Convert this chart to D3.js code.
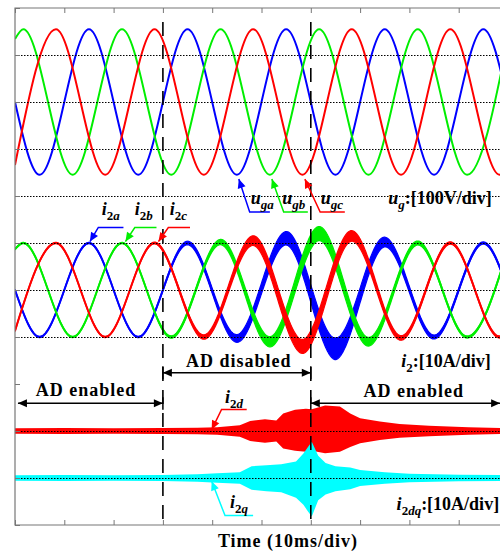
<!DOCTYPE html>
<html>
<head>
<meta charset="utf-8">
<script src="https://d3js.org/d3.v7.min.js"></script>
<style>
  body { margin: 0; background: #fff; }
  text { font-family: "Liberation Serif", "Times New Roman", serif; font-weight: bold; fill: #000; }
  .big { font-size: 18px; letter-spacing: 1px; }
  .tick line { stroke: #777; }
  .domain { display: none; }
</style>
</head>
<body>
<svg width="500" height="555"></svg>
<script>
// ---- data (time in ms, 10 ms/div) ----
// grid voltages: extrema times and values [V]
const ugaT = [0, 5, 15, 25, 35, 45, 55, 65, 75, 85, 95, 100];
const ugaV = [0, -155, 155, -155, 155, -155, 155, -155, 155, -155, 155, 0];
const ugbT = [0, 1.7, 11.7, 21.7, 31.7, 41.7, 51.7, 61.7, 71.7, 81.7, 91.7, 100];
const ugbV = [134, 155, -155, 155, -155, 155, -155, 155, -155, 155, -155, 134];
const ugcT = [0, 8.3, 18.3, 28.3, 38.3, 48.3, 58.3, 68.3, 78.3, 88.3, 98.3, 100];
const ugcV = [-134, 155, -155, 155, -155, 155, -155, 155, -155, 155, -155, -134];

// grid currents: extrema values [A] at the same times
const i2aV = [0, -10, 10, -10, 10, -10.3, 11, -12.5, 10.2, -10, 10, 0];
const i2bV = [8.7, 10, -10, 10, -10, 10.2, -11, 12, -11, 10, -10, 8.7];
const i2cV = [-8.7, 10, -10, 10, -10, 10.5, -12, 11.5, -10.2, 10, -10, -8.7];

// ripple half width on the currents [A]
const noiseT = [0, 5, 10, 15, 20, 25, 30, 35, 40, 45, 50, 55, 60, 65, 70, 75, 80, 85, 90, 95, 100];
const i2aN = [0, 0, 0, 0, 0, 0, 0.1, 0.25, 0.4, 0.7, 1.0, 1.3, 1.7, 2.2, 1.4, 0.9, 0.5, 0.3, 0.2, 0.1, 0.1];
const i2bN = [0, 0, 0, 0, 0, 0, 0.1, 0.2, 0.35, 0.6, 0.9, 1.1, 1.4, 1.3, 0.9, 0.6, 0.35, 0.2, 0.1, 0.1, 0.1];
const i2cN = [0, 0, 0, 0, 0, 0, 0.1, 0.25, 0.4, 0.7, 1.0, 1.3, 1.4, 1.2, 0.9, 0.5, 0.3, 0.2, 0.1, 0.1, 0.1];

// dq currents: envelope of the ripple [A]
const i2dT = [0, 10, 20, 30, 37, 41, 45.6, 47.7, 50.7, 53, 54.4, 56.8, 59, 60.2, 62.9, 65.9, 68, 70, 74, 78, 84, 92, 100];
const i2dUp = [10.35, 10.4, 10.35, 10.4, 10.5, 10.6, 11.0, 11.9, 12.3, 12.0, 13.5, 14.3, 14.5, 14.4, 15.2, 15.0, 13.5, 12.5, 11.8, 11.3, 10.9, 10.6, 10.4];
const i2dLo = [9.65, 9.6, 9.65, 9.6, 9.5, 9.4, 9.0, 8.1, 7.7, 8.0, 6.5, 6.0, 5.8, 6.0, 5.5, 5.8, 6.8, 7.6, 8.3, 8.8, 9.1, 9.4, 9.6];
const i2qT = [0, 10, 20, 30, 37, 41, 45.6, 48, 51, 54, 57, 58.5, 59.5, 60.2, 61.5, 63, 65, 68, 70, 75, 80, 90, 100];
const i2qUp = [0.35, 0.4, 0.35, 0.4, 0.6, 0.8, 1.0, 2.3, 2.5, 2.7, 3.3, 5.0, 6.5, 7.5, 4.5, 3.0, 2.3, 2.0, 1.5, 1.0, 0.7, 0.5, 0.4];
const i2qLo = [-0.35, -0.4, -0.35, -0.4, -0.6, -0.8, -1.0, -2.3, -2.6, -2.8, -4.0, -5.5, -7.0, -8.0, -4.5, -3.3, -2.6, -2.2, -1.5, -1.0, -0.7, -0.5, -0.4];

const switchT = [30, 60];          // AD disabled / enabled again
const gridDivs = [10, 9, 8, 7, 6, 5, 4, 2, 1];

// ---- scales ----
const svg = d3.select('svg');
const x = d3.scaleLinear().domain([0, 100]).range([15, 508]);
const yDiv = d3.scaleLinear().domain([0, 11]).range([525, 8]);
const yU = v => yDiv(9 + v / 100);   // 100 V/div
const yI = v => yDiv(5 + v / 10);    // 10 A/div
const yDQ = v => yDiv(1 + v / 10);   // 10 A/div
const pxPerA = yI(0) - yI(1);

const defs = svg.append('defs');
defs.append('clipPath').attr('id', 'plot')
  .append('rect').attr('x', 15).attr('y', 8).attr('width', 493).attr('height', 517);
const colors = { blue: '#0000ff', green: '#00ee00', red: '#ff0000', cyan: '#00ffff', black: '#000' };
Object.entries(colors).forEach(([k, c]) => {
  defs.append('marker').attr('id', 'ah-' + k)
    .attr('viewBox', '0 0 10 10').attr('refX', 10).attr('refY', 5)
    .attr('markerWidth', 11).attr('markerHeight', 9).attr('markerUnits', 'userSpaceOnUse')
    .attr('orient', 'auto-start-reverse')
    .append('path').attr('d', 'M0,0.5L10,5L0,9.5z').attr('fill', c);
});

const waves = svg.append('g').attr('clip-path', 'url(#plot)');
const curve = d3.curveMonotoneX;

// voltages
[[ugaT, ugaV, colors.blue], [ugbT, ugbV, colors.green], [ugcT, ugcV, colors.red]].forEach(([t, v, c]) => {
  waves.append('path')
    .attr('d', d3.line().x(d => x(d[0])).y(d => yU(d[1])).curve(curve)(d3.zip(t, v)))
    .attr('fill', 'none').attr('stroke', c).attr('stroke-width', 2);
});

// currents with ripple band
[[ugaT, i2aV, i2aN, colors.blue], [ugbT, i2bV, i2bN, colors.green], [ugcT, i2cV, i2cN, colors.red]].forEach(([t, v, n, c]) => {
  const path = waves.append('path')
    .attr('d', d3.line().x(d => x(d[0])).y(d => yI(d[1])).curve(curve)(d3.zip(t, v)))
    .attr('fill', 'none').attr('stroke', c).attr('stroke-width', 2);
  const node = path.node();
  const len = node.getTotalLength();
  const hw = d3.scaleLinear().domain(noiseT).range(n).clamp(true);
  const pts = d3.range(0, len, 0.5).map(l => node.getPointAtLength(l));
  waves.append('path')
    .attr('d', d3.area()
      .x(p => p.x)
      .y0(p => p.y - 0.6 - hw(x.invert(p.x)) * pxPerA)
      .y1(p => p.y + 0.6 + hw(x.invert(p.x)) * pxPerA)(pts))
    .attr('fill', c).attr('stroke', c).attr('stroke-width', 1.2);
});

// dq currents
[[i2dT, i2dUp, i2dLo, colors.red], [i2qT, i2qUp, i2qLo, colors.cyan]].forEach(([t, up, lo, c]) => {
  waves.append('path')
    .attr('d', d3.area().x(d => x(d[0])).y0(d => yDQ(d[1]) - 1).y1(d => yDQ(d[2]) + 1)(d3.zip(t, up, lo)))
    .attr('fill', c);
});

// dotted grid
svg.append('g').selectAll('line').data(gridDivs).join('line')
  .attr('x1', x(0)).attr('x2', x(100))
  .attr('y1', d => yDiv(d) + 0.5).attr('y2', d => yDiv(d) + 0.5)
  .attr('stroke', '#000').attr('stroke-width', 1).attr('stroke-dasharray', '1.5,1.5');

// dashed switching instants
svg.append('g').selectAll('line').data(switchT).join('line')
  .attr('x1', d => x(d)).attr('x2', d => x(d))
  .attr('y1', yDiv(10.7)).attr('y2', yDiv(0))
  .attr('stroke', '#000').attr('stroke-width', 1.6).attr('stroke-dasharray', '14,9');

// frame and ticks
const frame = svg.append('g');
frame.append('path')
  .attr('d', `M${x(100)},${yDiv(11)}H${x(0)}V${yDiv(0)}H${x(100)}`)
  .attr('fill', 'none').attr('stroke', '#777').attr('stroke-width', 1.2);
frame.append('g').attr('transform', `translate(0,${yDiv(11)})`)
  .call(d3.axisTop(x).ticks(10).tickSize(-5).tickSizeOuter(0).tickFormat(''));
frame.append('g').attr('transform', `translate(0,${yDiv(0)})`)
  .call(d3.axisBottom(x).ticks(10).tickSize(-5).tickSizeOuter(0).tickFormat(''));
frame.append('g').attr('transform', `translate(${x(0)},0)`)
  .call(d3.axisLeft(yDiv).ticks(11).tickSize(-5).tickSizeOuter(0).tickFormat(''));

// ---- annotations (positions in ms / div) ----
const ann = svg.append('g');
const P = (t, d) => [x(t), yDiv(d)];
function arrow(pts, color, both) {
  ann.append('path').attr('d', d3.line()(pts.map(p => P(p[0], p[1]))))
    .attr('fill', 'none').attr('stroke', colors[color]).attr('stroke-width', 1.5)
    .attr('marker-end', `url(#ah-${color})`)
    .attr('marker-start', both ? `url(#ah-${color})` : null);
}
function varLabel(t, d, main, sub, rest, anchor) {
  const tx = ann.append('text').attr('class', 'big').attr('x', x(t)).attr('y', yDiv(d))
    .attr('text-anchor', anchor || 'start').style('letter-spacing', '0px');
  tx.append('tspan').attr('font-style', 'italic').text(main);
  sub.forEach(([s, it], i) => {
    tx.append('tspan').attr('font-size', '13px').attr('font-style', it ? 'italic' : 'normal')
      .attr('dy', i === 0 ? 5 : 0).text(s);
  });
  if (rest) tx.append('tspan').attr('dy', -5).text(rest);
}

// voltage phase labels
arrow([[51.7, 6.66], [47.6, 6.66], [45.4, 7.36]], 'blue');
arrow([[59.4, 6.66], [54.5, 6.66], [52.1, 7.36]], 'green');
arrow([[66.9, 6.66], [61.9, 6.66], [58.8, 7.36]], 'red');
varLabel(47.8, 6.82, 'u', [['ga', true]]);
varLabel(54.2, 6.82, 'u', [['gb', true]]);
varLabel(62.0, 6.82, 'u', [['gc', true]]);

// current phase labels
arrow([[22.0, 6.33], [16.9, 6.33], [15.2, 6.03]], 'blue');
arrow([[28.7, 6.33], [24.3, 6.33], [22.4, 6.03]], 'green');
arrow([[35.5, 6.33], [31.1, 6.33], [29.1, 6.03]], 'red');
varLabel(17.6, 6.6, 'i', [['2', false], ['a', true]]);
varLabel(24.3, 6.6, 'i', [['2', false], ['b', true]]);
varLabel(31.4, 6.6, 'i', [['2', false], ['c', true]]);

// dq labels
arrow([[47.0, 2.46], [41.9, 2.46], [39.9, 2.03]], 'red');
varLabel(42.6, 2.59, 'i', [['2', false], ['d', true]]);
arrow([[48.3, 0.2], [42.6, 0.2], [39.9, 0.93]], 'cyan');
varLabel(43.6, 0.36, 'i', [['2', false], ['q', true]]);

// scale labels
varLabel(96.7, 6.83, 'u', [['g', true]], ':[100V/div]', 'end');
varLabel(96.5, 3.37, 'i', [['2', false]], ':[10A/div]', 'end');
varLabel(98.2, 0.32, 'i', [['2', false], ['dq', true]], ':[10A/div]', 'end');

// AD state arrows
arrow([[switchT[0], 3.24], [switchT[1], 3.24]], 'black', true);
arrow([[0.6, 2.59], [switchT[0], 2.59]], 'black', true);
arrow([[switchT[1], 2.59], [98.4, 2.59]], 'black', true);
[[switchT[0], 3.38, 3.1], [switchT[1], 3.38, 3.1], [switchT[0], 2.72, 2.45], [switchT[1], 2.72, 2.45]].forEach(([t, a, b]) => {
  ann.append('line').attr('x1', x(t)).attr('x2', x(t)).attr('y1', yDiv(a)).attr('y2', yDiv(b))
    .attr('stroke', '#000').attr('stroke-width', 1.5);
});
ann.append('text').attr('class', 'big').attr('x', x(45.4)).attr('y', yDiv(3.36)).attr('text-anchor', 'middle').text('AD disabled');
ann.append('text').attr('class', 'big').attr('x', x(14.4)).attr('y', yDiv(2.745)).attr('text-anchor', 'middle').text('AD enabled');
ann.append('text').attr('class', 'big').attr('x', x(80.9)).attr('y', yDiv(2.73)).attr('text-anchor', 'middle').text('AD enabled');

// time axis label
ann.append('text').attr('class', 'big').attr('x', 288).attr('y', yDiv(-0.46)).attr('text-anchor', 'middle').text('Time (10ms/div)');
</script>
</body>
</html>
